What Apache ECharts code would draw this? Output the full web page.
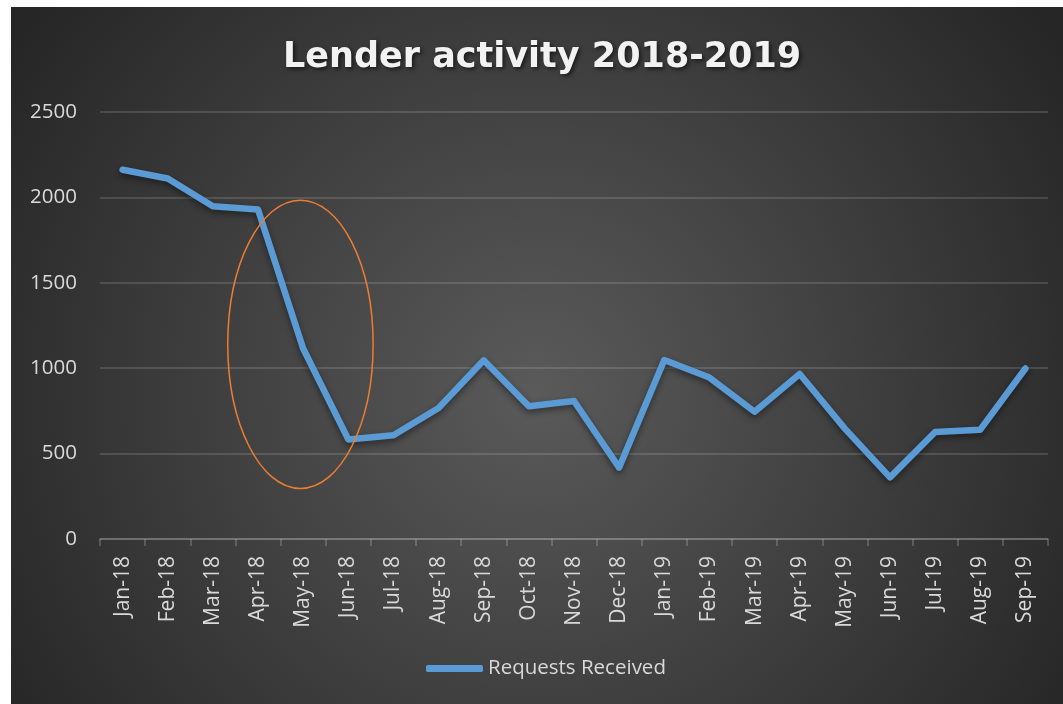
<!DOCTYPE html>
<html>
<head>
<meta charset="utf-8">
<title>Lender activity 2018-2019</title>
<script src="https://cdn.jsdelivr.net/npm/echarts@6/dist/echarts.min.js"></script>
<style>
  html, body { margin: 0; padding: 0; background: #ffffff; }
  #chart { position: absolute; left: 11px; top: 7px; width: 1052px; height: 697px; }
</style>
</head>
<body>
<div id="chart"></div>
<script>
// values
const months = ['Jan-18', 'Feb-18', 'Mar-18', 'Apr-18', 'May-18', 'Jun-18', 'Jul-18',
  'Aug-18', 'Sep-18', 'Oct-18', 'Nov-18', 'Dec-18', 'Jan-19', 'Feb-19', 'Mar-19',
  'Apr-19', 'May-19', 'Jun-19', 'Jul-19', 'Aug-19', 'Sep-19']
const requests = [2162, 2111, 1948, 1929, 1115, 583, 607, 767, 1046, 777, 808, 418,
  1048, 945, 745, 966, 646, 361, 626, 640, 998]
const yTicks = [0, 500, 1000, 1500, 2000, 2500]

// orange ring round the drop, in axis units (category index, value)
const ringCenter = [3.94, 1140]
const ringRadius = [1.61, 844]

const labelColor = '#d9d9d9'
const gridColor = 'rgba(217,217,217,0.22)'

const option = {
  backgroundColor: {
    type: 'radial',
    x: 0.5,
    y: 0.55,
    r: 0.9,
    colorStops: [
      { offset: 0, color: '#5a5a5a' },
      { offset: 1, color: '#262626' }
    ]
  },
  title: {
    text: 'Lender activity 2018-2019',
    left: 267,
    top: 28,
    textStyle: {
      color: '#f2f2f2',
      fontFamily: 'DejaVu Sans',
      fontWeight: 'bold',
      fontSize: 35,
      textShadowColor: 'rgba(0,0,0,0.6)',
      textShadowBlur: 4,
      textShadowOffsetX: 2,
      textShadowOffsetY: 2
    }
  },
  legend: {
    left: 410,
    top: 646,
    icon: 'roundRect',
    itemWidth: 57,
    itemHeight: 7,
    itemGap: 4,
    selectedMode: false,
    textStyle: {
      color: labelColor,
      fontFamily: 'Open Sans',
      fontSize: 20.5
    },
    data: ['Requests Received']
  },
  grid: {
    left: 89,
    top: 105,
    width: 948,
    height: 427,
    containLabel: false
  },
  xAxis: {
    type: 'category',
    boundaryGap: true,
    data: months,
    axisLine: {
      show: true,
      lineStyle: { color: 'rgba(217,217,217,0.3)', width: 1.5 }
    },
    axisTick: {
      show: true,
      length: 7,
      lineStyle: { color: 'rgba(217,217,217,0.3)', width: 1.5 }
    },
    axisLabel: {
      rotate: 90,
      margin: 17,
      color: labelColor,
      fontFamily: 'Open Sans',
      fontSize: 21
    }
  },
  yAxis: {
    type: 'value',
    min: yTicks[0],
    max: yTicks[yTicks.length - 1],
    interval: 500,
    axisLine: { show: false },
    axisTick: { show: false },
    axisLabel: {
      margin: 23,
      color: labelColor,
      fontFamily: 'Open Sans',
      fontSize: 20.5,
      formatter: value => String(value)
    },
    splitLine: {
      lineStyle: { color: gridColor, width: 1.5 }
    }
  },
  series: [{
    name: 'Requests Received',
    type: 'line',
    data: requests,
    showSymbol: false,
    symbol: 'none',
    color: '#5b9bd5',
    lineStyle: {
      width: 6.5,
      color: '#5b9bd5',
      cap: 'round',
      join: 'round',
      shadowColor: 'rgba(0,0,0,0.45)',
      shadowBlur: 6,
      shadowOffsetY: 3
    },
    animation: false
  }]
}

const myChart = echarts.init(document.getElementById('chart'))
myChart.setOption(option)

// place the ring through the axes so it follows the scale
const p0 = myChart.convertToPixel({ gridIndex: 0 }, [0, 0])
const p1 = myChart.convertToPixel({ gridIndex: 0 }, [1, 0])
const step = p1[0] - p0[0]
const cy = myChart.convertToPixel({ gridIndex: 0 }, [0, ringCenter[1]])[1]
const cyTop = myChart.convertToPixel({ gridIndex: 0 }, [0, ringCenter[1] + ringRadius[1]])[1]
myChart.setOption({
  graphic: [{
    type: 'ellipse',
    shape: {
      cx: p0[0] + step * ringCenter[0],
      cy: cy,
      rx: step * ringRadius[0],
      ry: cy - cyTop
    },
    style: { fill: null, stroke: '#ed7d31', lineWidth: 1.5 },
    z: 10
  }]
})

window.addEventListener('resize', () => {
  myChart.resize()
})
</script>
</body>
</html>
